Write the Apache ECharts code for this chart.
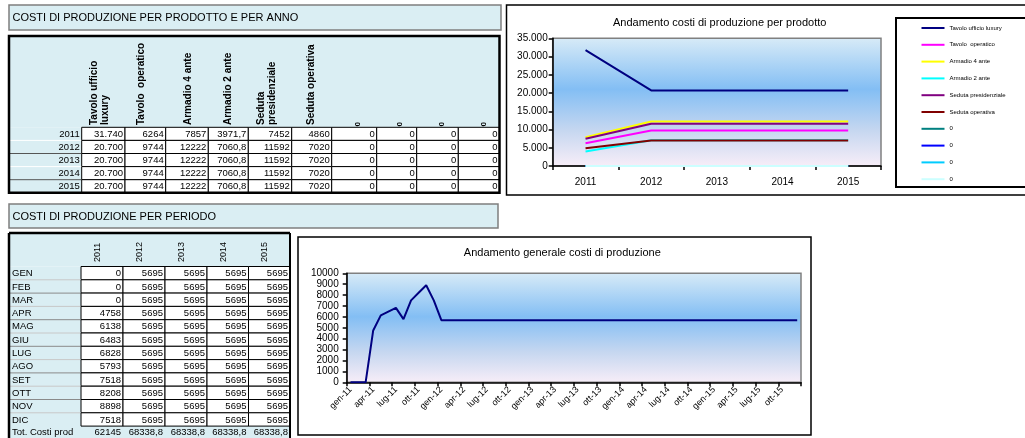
<!DOCTYPE html>
<html>
<head>
<meta charset="utf-8">
<script src="https://cdn.jsdelivr.net/npm/echarts@6/dist/echarts.min.js"></script>
<style>
  html, body { margin: 0; padding: 0; background: #ffffff; }
  #main { width: 1025px; height: 438px; }
</style>
</head>
<body>
<div id="main"></div>
<script>
// ---- data ----
const years = ['2011', '2012', '2013', '2014', '2015'];
const productNames = ['Tavolo ufficio luxury', 'Tavolo  operatico', 'Armadio 4 ante', 'Armadio 2 ante',
  'Seduta presidenziale', 'Seduta operativa', '0', '0', '0', '0'];
const productHeaders = ['Tavolo ufficio\nluxury', 'Tavolo  operatico', 'Armadio 4 ante', 'Armadio 2 ante',
  'Seduta\npresidenziale', 'Seduta operativa', '0', '0', '0', '0'];
const tavoloUfficioLuxury = [31740, 20700, 20700, 20700, 20700];
const tavoloOperatico = [6264, 9744, 9744, 9744, 9744];
const armadio4Ante = [7857, 12222, 12222, 12222, 12222];
const armadio2Ante = [3971.7, 7060.8, 7060.8, 7060.8, 7060.8];
const sedutaPresidenziale = [7452, 11592, 11592, 11592, 11592];
const sedutaOperativa = [4860, 7020, 7020, 7020, 7020];
const prodotto7 = [0, 0, 0, 0, 0];
const prodotto8 = [0, 0, 0, 0, 0];
const prodotto9 = [0, 0, 0, 0, 0];
const prodotto10 = [0, 0, 0, 0, 0];
const productColors = ['#000080', '#FF00FF', '#FFFF00', '#00FFFF', '#800080', '#800000',
  '#008080', '#0000FF', '#00CCFF', '#CCFFFF'];

const monthNames = ['GEN', 'FEB', 'MAR', 'APR', 'MAG', 'GIU', 'LUG', 'AGO', 'SET', 'OTT', 'NOV', 'DIC'];
const monthShort = ['gen', 'feb', 'mar', 'apr', 'mag', 'giu', 'lug', 'ago', 'set', 'ott', 'nov', 'dic'];
const costi2011 = [0, 0, 0, 4758, 6138, 6483, 6828, 5793, 7518, 8208, 8898, 7518];
const costi2012 = [5695, 5695, 5695, 5695, 5695, 5695, 5695, 5695, 5695, 5695, 5695, 5695];
const costi2013 = [5695, 5695, 5695, 5695, 5695, 5695, 5695, 5695, 5695, 5695, 5695, 5695];
const costi2014 = [5695, 5695, 5695, 5695, 5695, 5695, 5695, 5695, 5695, 5695, 5695, 5695];
const costi2015 = [5695, 5695, 5695, 5695, 5695, 5695, 5695, 5695, 5695, 5695, 5695, 5695];
const totaliAnnui = [62145, 68338.8, 68338.8, 68338.8, 68338.8];

// ---- derived structures ----
const productSeries = [tavoloUfficioLuxury, tavoloOperatico, armadio4Ante, armadio2Ante,
  sedutaPresidenziale, sedutaOperativa, prodotto7, prodotto8, prodotto9, prodotto10];
// legend needs distinct names; trailing spaces are trimmed when drawn
const seriesNames = productNames.map((n, i) => n + ' '.repeat(i));
const costiPerAnno = [costi2011, costi2012, costi2013, costi2014, costi2015];
const monthCategories = [];
years.forEach(y => monthShort.forEach(m => monthCategories.push(m + '-' + y.slice(2))));
const costiMensili = [].concat(costi2011, costi2012, costi2013, costi2014, costi2015);

const FONT = '"Liberation Sans", Arial, sans-serif';
const LIGHT = '#DAEEF3';

function itNumber(v) { return String(v).replace('.', ','); }
function itThousands(v) { return String(v).replace(/\B(?=(\d{3})+(?!\d))/g, '.'); }

// ---- sheet drawing helpers ----
const els = [];
function rect(x, y, w, h, fill, stroke, lw) {
  els.push({ type: 'rect', silent: true, shape: { x: x, y: y, width: w, height: h },
    style: { fill: fill || 'none', stroke: stroke || 'none', lineWidth: lw || 0 } });
}
function seg(x1, y1, x2, y2, color, lw) {
  els.push({ type: 'line', silent: true, shape: { x1: x1, y1: y1, x2: x2, y2: y2 },
    style: { stroke: color, lineWidth: lw } });
}
function txt(x, y, s, o) {
  o = o || {};
  els.push({ type: 'text', silent: true, x: x, y: y, rotation: o.rot || 0,
    style: { text: s, fill: '#000', fontFamily: FONT, fontSize: o.size || 9.5,
      fontWeight: o.bold ? 'bold' : 'normal', align: o.align || 'left',
      verticalAlign: o.valign || 'middle', lineHeight: o.lh || undefined } });
}

// Title bars
rect(9, 5, 492, 25, LIGHT, '#7f7f7f', 1.5);
txt(12.5, 18, 'COSTI DI PRODUZIONE PER PRODOTTO E PER ANNO', { size: 11 });
rect(9, 204, 489, 24, LIGHT, '#7f7f7f', 1.5);
txt(12.5, 216.5, 'COSTI DI PRODUZIONE PER PERIODO', { size: 11 });

// Table: costs per product and year
(function () {
  const L = 9, R = 499.5, T = 36, HB = 127.3, RH = 13.1;
  const cols = [9, 81.7, 125, 165.7, 208.3, 248.3, 291.7, 331.7, 376.7, 416.7, 458.3, 499.5];
  const B = HB + RH * years.length;
  rect(L, T, R - L, HB - T, LIGHT);
  rect(L, HB, cols[1] - L, B - HB, LIGHT);
  const hdrX = [100, 141, 188, 228, 266.5, 311, 358, 400, 441.7, 483.3];
  productHeaders.forEach((h, i) => {
    const isZero = h === '0';
    txt(hdrX[i], isZero ? 126.5 : 125, h, { rot: Math.PI / 2, bold: true, size: isZero ? 8 : 10, lh: 11 });
  });
  years.forEach((y, r) => {
    const y0 = HB + r * RH;
    if (r > 0) seg(L, y0, cols[1], y0, r % 2 === 0 ? '#555' : '#ffffff', 1);
    txt(cols[1] - 2, y0 + RH / 2 + 0.5, y, { align: 'right' });
    productSeries.forEach((s, c) => {
      rect(cols[c + 1], y0, cols[c + 2] - cols[c + 1], RH, '#ffffff', '#000', 1);
      const label = c === 0 ? itThousands(s[r]) : itNumber(s[r]);
      txt(cols[c + 2] - 2, y0 + RH / 2 + 0.5, label, { align: 'right' });
    });
  });
  rect(L, T, R - L, B - T, 'none', '#000', 2.5);
})();

// Table: costs per period
(function () {
  const L = 9, R = 290, T = 233, HB = 266.5, RH = 13.3;
  const cols = [9, 81, 123, 165, 207, 248.5, 290];
  const B = HB + RH * monthNames.length;
  rect(L, T, R - L, HB - T, LIGHT);
  rect(L, HB, cols[1] - L, B - HB, LIGHT);
  rect(L, B, R - L, 14, LIGHT);
  years.forEach((y, c) => {
    txt(cols[c + 1] + 16.5, 262, y, { rot: Math.PI / 2, size: 9 });
  });
  monthNames.forEach((m, r) => {
    const y0 = HB + r * RH;
    if (r > 0) seg(L, y0, cols[1], y0, r % 2 === 0 ? '#8a8a8a' : '#c8c8c8', 1);
    txt(12, y0 + RH / 2 + 0.5, m);
    costiPerAnno.forEach((arr, c) => {
      rect(cols[c + 1], y0, cols[c + 2] - cols[c + 1], RH, '#ffffff', '#000', 1);
      txt(cols[c + 2] - 2, y0 + RH / 2 + 0.5, String(arr[r]), { align: 'right' });
    });
  });
  txt(12, B + 6.5, 'Tot. Costi prod');
  totaliAnnui.forEach((v, c) => txt(cols[c + 2] - 2, B + 6.5, itNumber(v), { align: 'right' }));
  seg(L, T, R, T, '#000', 2.5);
  seg(L, T, L, 440, '#000', 2.5);
  seg(R, T, R, 440, '#000', 2);
})();

// Chart frames and legend box
rect(506.5, 5, 530, 190, 'none', '#000', 1.5);
rect(896, 18, 140, 169, 'none', '#000', 2);
rect(298, 237, 513, 198, 'none', '#000', 1.5);

// ---- charts ----
function plotBg() {
  return new echarts.graphic.LinearGradient(0, 0, 0, 1, [
    { offset: 0, color: '#d8ebf7' },
    { offset: 0.4, color: '#83bef4' },
    { offset: 0.72, color: '#c6d7f0' },
    { offset: 1, color: '#f8eef8' }
  ]);
}
const axisBlack = { lineStyle: { color: '#000', width: 1.5 } };

const chart = echarts.init(document.getElementById('main'), null, { renderer: 'canvas' });
chart.setOption({
  animation: false,
  backgroundColor: '#ffffff',
  textStyle: { fontFamily: FONT },
  title: [
    { text: 'Andamento costi di produzione per prodotto', left: 719.7, top: 22.7, padding: 0,
      textAlign: 'center', textVerticalAlign: 'middle',
      textStyle: { fontSize: 11, fontWeight: 'normal', color: '#000', fontFamily: FONT } },
    { text: 'Andamento generale costi di produzione', left: 562.3, top: 253.3, padding: 0,
      textAlign: 'center', textVerticalAlign: 'middle',
      textStyle: { fontSize: 11, fontWeight: 'normal', color: '#000', fontFamily: FONT } }
  ],
  grid: [
    { left: 552.7, top: 38.3, width: 328.3, height: 127.7, show: true, backgroundColor: plotBg(),
      borderColor: '#808080', borderWidth: 1.5, outerBoundsMode: 'none', containLabel: false },
    { left: 346.7, top: 273.3, width: 454.3, height: 109, show: true, backgroundColor: plotBg(),
      borderColor: '#808080', borderWidth: 1.5, outerBoundsMode: 'none', containLabel: false }
  ],
  legend: {
    orient: 'vertical', left: 921.5, top: 24, padding: 0, itemGap: 8.8,
    icon: 'rect', itemWidth: 23, itemHeight: 2, selectedMode: false,
    data: seriesNames,
    formatter: n => n.trim(),
    textStyle: { fontSize: 6, lineHeight: 8, color: '#000', fontFamily: FONT }
  },
  xAxis: [
    { type: 'category', gridIndex: 0, data: years, boundaryGap: true,
      axisLine: axisBlack, axisTick: { show: true, length: 4, lineStyle: { color: '#000', width: 1.5 } },
      axisLabel: { color: '#000', fontSize: 10, margin: 11 }, splitLine: { show: false } },
    { type: 'category', gridIndex: 1, data: monthCategories, boundaryGap: true,
      axisLine: axisBlack,
      axisTick: { show: true, length: 4, interval: 2, lineStyle: { color: '#000', width: 1.5 } },
      axisLabel: { color: '#000', fontSize: 9, rotate: 45, interval: 2, margin: 6 }, splitLine: { show: false } }
  ],
  yAxis: [
    { type: 'value', gridIndex: 0, min: 0, max: 35000, interval: 5000,
      axisLine: Object.assign({ show: true }, axisBlack),
      axisTick: { show: true, length: 4, lineStyle: { color: '#000', width: 1.5 } },
      axisLabel: { color: '#000', fontSize: 10, margin: 5, formatter: v => itThousands(v) },
      splitLine: { show: false } },
    { type: 'value', gridIndex: 1, min: 0, max: 10000, interval: 1000,
      axisLine: Object.assign({ show: true }, axisBlack),
      axisTick: { show: true, length: 4, lineStyle: { color: '#000', width: 1.5 } },
      axisLabel: { color: '#000', fontSize: 10, margin: 8, formatter: v => String(v) },
      splitLine: { show: false } }
  ],
  series: productSeries.map((d, i) => ({
    type: 'line', name: seriesNames[i], xAxisIndex: 0, yAxisIndex: 0, data: d,
    symbol: 'none', color: productColors[i], lineStyle: { width: 2, color: productColors[i] }
  })).concat([{
    type: 'line', name: 'Costi', xAxisIndex: 1, yAxisIndex: 1, data: costiMensili,
    symbol: 'none', color: '#000080', lineStyle: { width: 2, color: '#000080' }
  }]),
  graphic: { elements: els }
});
</script>
</body>
</html>
